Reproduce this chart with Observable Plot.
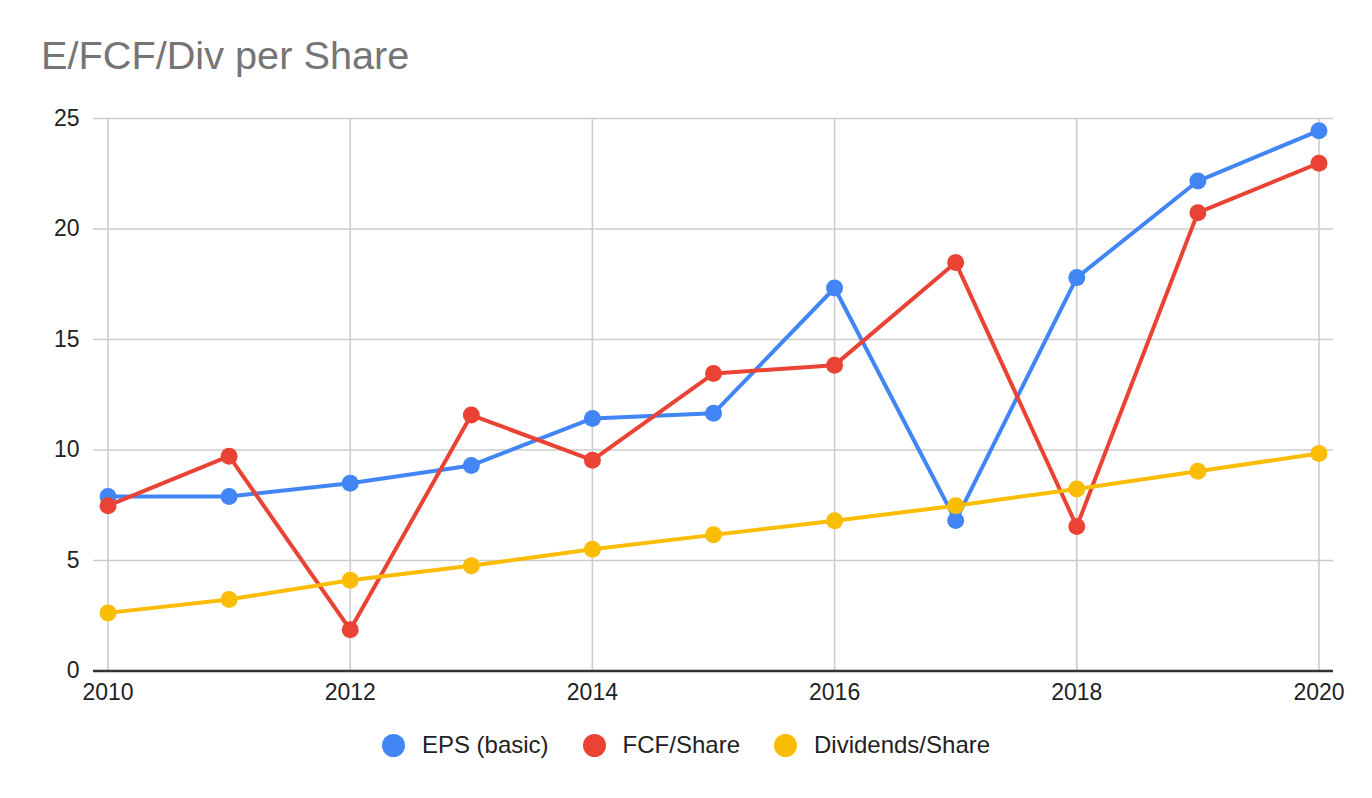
<!DOCTYPE html>
<html>
<head>
<meta charset="utf-8">
<script src="https://cdn.jsdelivr.net/npm/d3@7"></script>
<script src="https://cdn.jsdelivr.net/npm/@observablehq/plot@0.6"></script>
<style>
  html, body { margin: 0; padding: 0; background: #fff; }
  body { width: 1372px; height: 798px; position: relative; overflow: hidden; font-family: Arial, "Liberation Sans", sans-serif; }
  #title { position: absolute; left: 41px; top: 36px; font-size: 39.7px; color: #757575; line-height: 1; white-space: nowrap; }
  #chart { position: absolute; left: 0; top: 100px; }
  #legend { position: absolute; left: 0; width: 1372px; top: 731px; height: 28px; display: flex; justify-content: center; align-items: center; font-size: 24px; color: #222; }
  .item { display: flex; align-items: center; margin: 0 17px; }
  .sw { width: 23px; height: 23px; border-radius: 50%; margin-right: 17px; }
</style>
</head>
<body>
<div id="title">E/FCF/Div per Share</div>
<div id="chart"></div>
<div id="legend"></div>
<script>
const years = [2010, 2011, 2012, 2013, 2014, 2015, 2016, 2017, 2018, 2019, 2020];
const seriesNames = ["EPS (basic)", "FCF/Share", "Dividends/Share"];
const seriesColors = ["#4285F4", "#EA4335", "#FBBC04"];
const eps = [7.9, 7.9, 8.5, 9.3, 11.43, 11.66, 17.33, 6.81, 17.8, 22.17, 24.45];
const fcf = [7.48, 9.72, 1.87, 11.58, 9.54, 13.46, 13.84, 18.48, 6.54, 20.74, 22.98];
const div = [2.63, 3.24, 4.11, 4.76, 5.51, 6.16, 6.8, 7.48, 8.24, 9.04, 9.84];
const yTicks = [0, 5, 10, 15, 20, 25];
const xTicks = [2010, 2012, 2014, 2016, 2018, 2020];

const valuesBySeries = [eps, fcf, div];
const data = [];
seriesNames.forEach((s, i) => {
  years.forEach((yr, j) => data.push({series: s, year: yr, value: valuesBySeries[i][j]}));
});

const chart = Plot.plot({
  width: 1372,
  height: 620,
  marginTop: 18,
  marginBottom: 49.5,
  marginLeft: 93,
  marginRight: 39,
  style: { fontFamily: "Arial, 'Liberation Sans', sans-serif", fontSize: "23px", color: "#222", background: "transparent" },
  x: { domain: [2009.88, 2020.12], ticks: xTicks, tickFormat: d3.format("d"), tickSize: 0, tickPadding: 13, label: null },
  y: { domain: [0, 25], ticks: yTicks, tickSize: 0, tickPadding: 14, label: null },
  color: { domain: seriesNames, range: seriesColors },
  marks: [
    Plot.ruleY(yTicks.filter(d => d > 0), { stroke: "#cccccc", strokeWidth: 1.6, strokeOpacity: 1 }),
    Plot.ruleX(xTicks, { y1: 0, y2: 25, stroke: "#cccccc", strokeWidth: 1.6, strokeOpacity: 1 }),
    Plot.ruleY([0], { stroke: "#333333", strokeWidth: 2.4 }),
    Plot.axisX({ ticks: xTicks, tickFormat: d3.format("d"), tickSize: 0, tickPadding: 13, fontSize: 23, fill: "#222" }),
    Plot.axisY({ ticks: yTicks, tickSize: 0, tickPadding: 14, fontSize: 23, fill: "#222" }),
    Plot.line(data, { x: "year", y: "value", z: "series", stroke: "series", strokeWidth: 4, curve: "linear" }),
    Plot.dot(data, { x: "year", y: "value", fill: "series", r: 8.5, stroke: "none" })
  ]
});
document.getElementById("chart").appendChild(chart);

const legend = document.getElementById("legend");
seriesNames.forEach((s, i) => {
  const item = document.createElement("div");
  item.className = "item";
  const sw = document.createElement("div");
  sw.className = "sw";
  sw.style.background = seriesColors[i];
  const label = document.createElement("span");
  label.textContent = s;
  item.appendChild(sw);
  item.appendChild(label);
  legend.appendChild(item);
});
</script>
</body>
</html>
